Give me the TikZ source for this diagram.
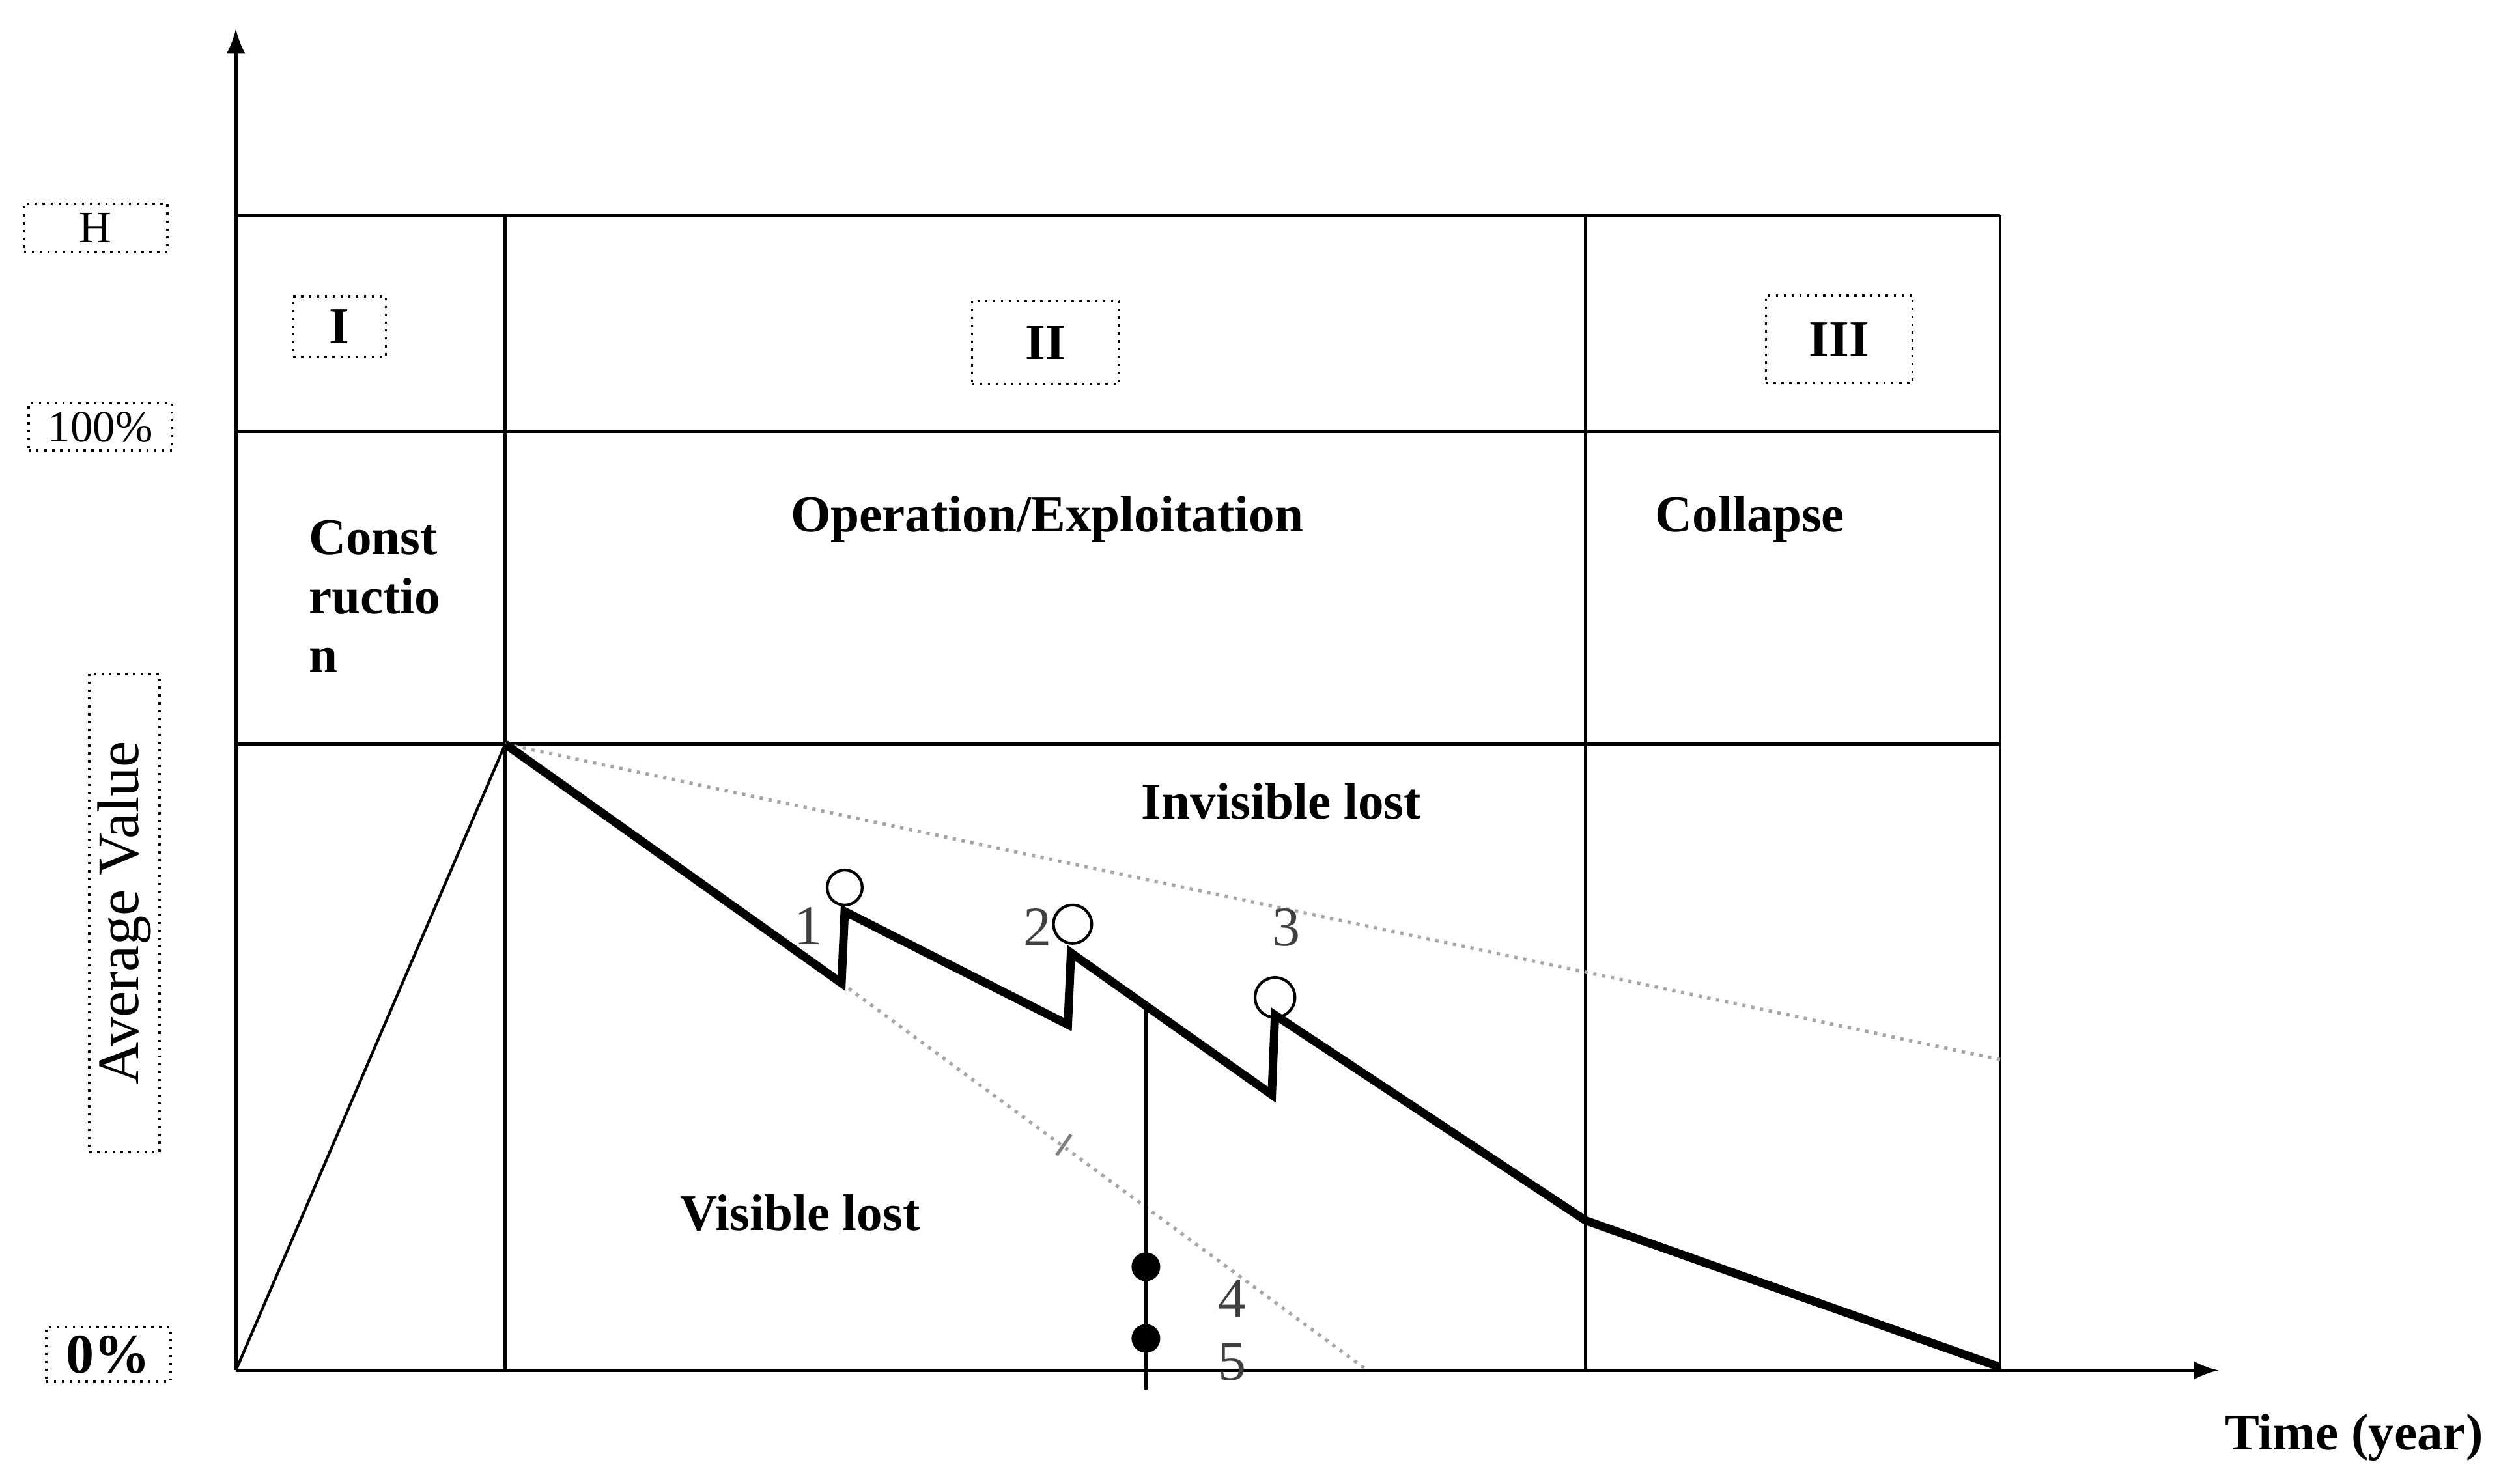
\documentclass[tikz,border=0pt]{standalone}
\usepackage{fontspec}
\setmainfont{Liberation Serif}
\begin{document}
\begin{tikzpicture}[x=0.01cm,y=-0.01cm,
 grid/.style={line width=0.55pt},
 dbox/.style={draw,densely dotted,inner sep=1.5pt,line width=0.4pt},
 lab/.style={font=\fontsize{9.2}{10.5}\selectfont\bfseries},
 num/.style={font=\fontsize{10}{11}\selectfont, text=black!75},
 gl/.style={gray!70,densely dotted,line width=0.6pt}]
\useasboundingbox (0,0) rectangle (1568,931);
% axes
\coordinate (o) at (148,860);
\coordinate (yt) at (148,18);
\coordinate (xt) at (1392,860);
\draw[grid,-latex] (o) -- (yt);
\draw[grid,-latex] (o) -- (xt);
% table
\draw[grid] (148,135) -- (1255,135);
\draw[grid] (148,271) -- (1255,271);
\draw[grid] (148,467) -- (1255,467);
\draw[grid] (317,135) -- (317,860);
\draw[grid] (995,135) -- (995,860);
\draw[grid] (1255,135) -- (1255,860);
% side labels
\node[dbox,minimum width=0.9cm,minimum height=0.3cm,font=\fontsize{8}{9}\selectfont] (h) at (60,143) {H};
\node[dbox,minimum width=0.9cm,font=\fontsize{8}{9}\selectfont] (p100) at (63,268) {100\%};
\node[dbox,minimum width=0.78cm,font=\fontsize{10}{11}\selectfont\bfseries] (p0) at (68,850) {0\%};
\node[dbox,rotate=90,minimum width=3.0cm,minimum height=0.42cm,font=\fontsize{10.5}{12}\selectfont] (av) at (78,573) {Average Value};
\node[dbox,lab,minimum width=0.58cm,minimum height=0.38cm] (n1) at (213,205) {I};
\node[dbox,lab,minimum width=0.92cm,minimum height=0.52cm] (n2) at (656,215) {II};
\node[dbox,lab,minimum width=0.92cm,minimum height=0.55cm] (n3) at (1154,213) {III};
\node[lab,align=left,anchor=north west,inner sep=0pt] (con) at (193,326) {Const\\ructio\\n};
\node[lab] (op) at (657,326) {Operation/Exploitation};
\node[lab] (col) at (1098,326) {Collapse};
\node[lab] (inv) at (804,503) {Invisible lost};
\node[lab] (vis) at (502,761) {Visible lost};
\node[lab] (time) at (1477,902) {Time (year)};
% curves
\coordinate (top) at (317,467);
\draw[line width=0.5pt] (o) -- (top);
\draw[gl] (top) -- (1255,665);
\draw[gl] (528,617) -- (858,860);
\draw[gray,line width=0.6pt] (663,725) -- (672,712);
\draw[line width=1.5pt,line join=miter] (top) -- (528,617) -- (530,572) -- (670,643) -- (672,598) -- (798,687) -- (800,637) -- (995,766) -- (1255,858);
\node[draw,circle,minimum size=0.22cm,inner sep=0,line width=0.5pt] (c1) at (530,557) {};
\node[draw,circle,minimum size=0.24cm,inner sep=0,line width=0.5pt] (c2) at (673,580) {};
\node[draw,circle,minimum size=0.25cm,inner sep=0,line width=0.5pt] (c3) at (800,626) {};
\node[num] at (507,581) {1};
\node[num] at (651,582) {2};
\node[num] at (807,582) {3};
\node[num] at (773,815) {4};
\node[num] at (773,855) {5};
\coordinate (vt) at (719,632);
\coordinate (vb) at (719,872);
\draw[line width=0.55pt] (vt) -- (vb);
\fill (719,795) circle (9);
\fill (719,840) circle (9);
\end{tikzpicture}
\end{document}
